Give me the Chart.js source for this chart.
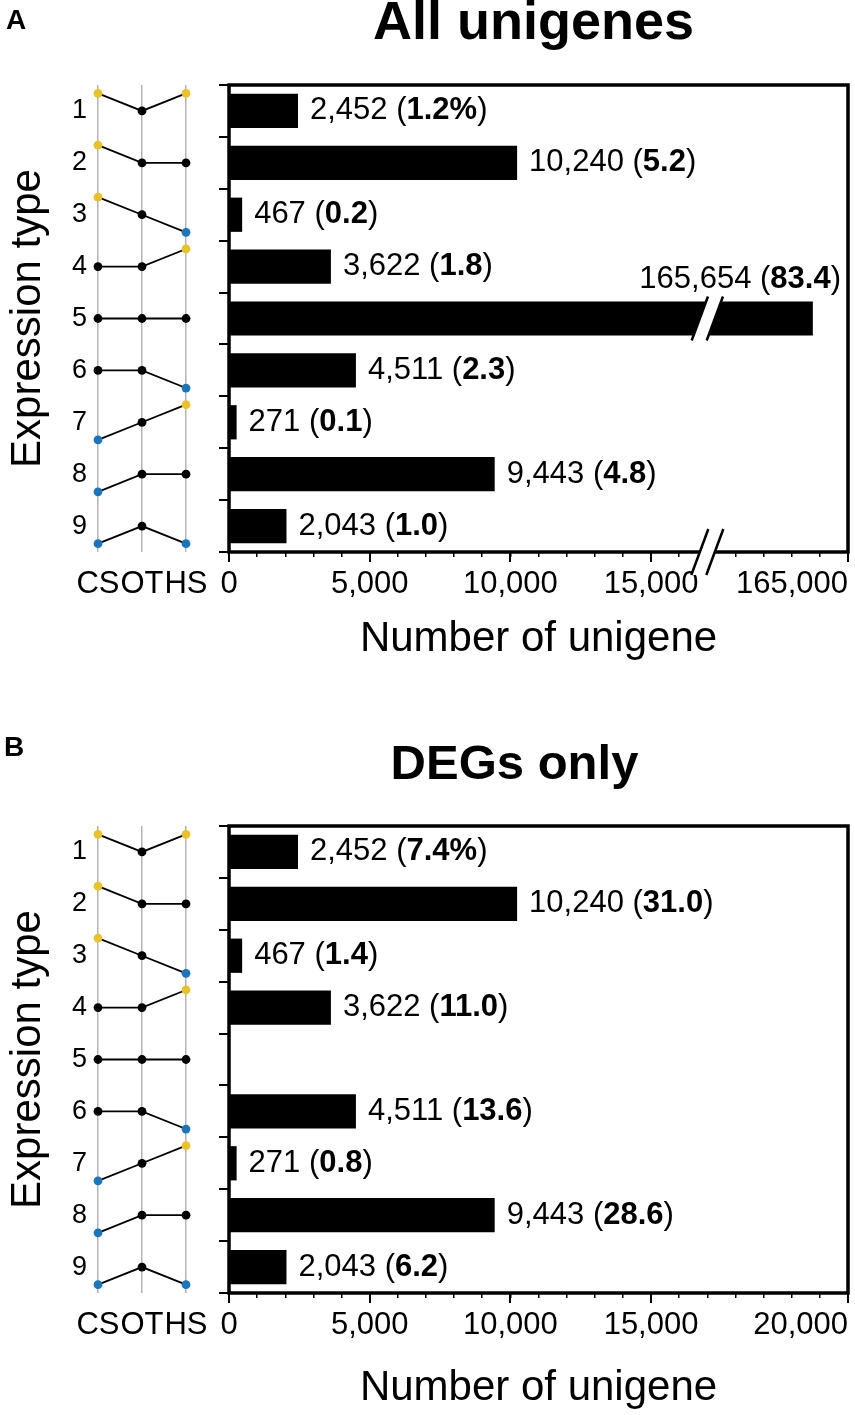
<!DOCTYPE html>
<html>
<head>
<meta charset="utf-8">
<title>Expression types of unigenes</title>
<script src="https://cdn.jsdelivr.net/npm/chart.js@4.4.1/dist/chart.umd.min.js"></script>
<style>
  html, body { margin: 0; padding: 0; background: #fff; overflow: hidden; }
  body { width: 855px; height: 1415px; position: relative; font-family: 'Liberation Sans', Arial, Helvetica, sans-serif; }
  .panel { position: absolute; left: 0; width: 855px; height: 700px; }
  .panel canvas { position: absolute; top: 0; }
  .tag { position: absolute; font-weight: bold; font-size: 28px; line-height: 28px; z-index: 2; }
</style>
</head>
<body>
<div class="panel" style="top:0px">
  <canvas id="patternA" width="215" height="700" style="left:0px"></canvas>
  <canvas id="barsA" width="642" height="700" style="left:213px"></canvas>
</div>
<div class="panel" style="top:741px">
  <canvas id="patternB" width="215" height="700" style="left:0px"></canvas>
  <canvas id="barsB" width="680" height="700" style="left:175px"></canvas>
</div>
<div class="tag" style="left:6px; top:6px;">A</div>
<div class="tag" style="left:4px; top:733px;">B</div>

<script>
// ---- data ----
const expressionTypes = ['1', '2', '3', '4', '5', '6', '7', '8', '9'];
const stageLabels = ['CS', 'OT', 'HS'];
// 1 = up (yellow), 0 = unchanged (black), -1 = down (blue)
const levelCS = [1, 1, 1, 0, 0, 0, -1, -1, -1];
const levelOT = [0, 0, 0, 0, 0, 0, 0, 0, 0];
const levelHS = [1, 0, -1, 1, 0, -1, 1, 0, -1];

const allCounts = [2452, 10240, 467, 3622, 165654, 4511, 271, 9443, 2043];
const allPercents = ['1.2%', '5.2', '0.2', '1.8', '83.4', '2.3', '0.1', '4.8', '1.0'];
const degCounts = [2452, 10240, 467, 3622, 0, 4511, 271, 9443, 2043];
const degPercents = ['7.4%', '31.0', '1.4', '11.0', '', '13.6', '0.8', '28.6', '6.2'];

const xMajorTicks = [0, 5000, 10000, 15000];
const allAxisEnd = '165,000';
const degAxisEnd = '20,000';

// ---- axis layout ----
const AXIS_MAX = 22000;        // axis length in linear units (end tick carries the end label)
const MINOR_STEP = 1000;
const BREAK_AT = 17000;        // where the axis / long bars are broken
const BROKEN_BAR_END = 20750;  // broken bars are drawn up to here
const LEVEL_STEP = 0.34;       // vertical offset of up/down dots, in rows
const X_AXIS_HEIGHT = 148;
const FONT = "'Liberation Sans', Arial, Helvetica, sans-serif";
const LABEL_SIZE = 31;

Chart.defaults.font.family = FONT;
Chart.defaults.color = '#000';
Chart.defaults.animation = false;
Chart.defaults.events = [];
Chart.defaults.plugins.legend.display = false;
Chart.defaults.plugins.tooltip.enabled = false;

const levelColor = { '1': '#e9c22a', '0': '#000000', '-1': '#1b75bb' };

function drawPattern(canvasId) {
    const datasets = expressionTypes.map((t, i) => {
        const lv = [levelCS[i], levelOT[i], levelHS[i]];
        return {
            data: lv.map((l, s) => ({ x: s, y: i + 1 - l * LEVEL_STEP })),
            showLine: true,
            borderColor: '#000',
            borderWidth: 1.8,
            pointRadius: 4.4,
            pointBorderWidth: 0,
            pointBackgroundColor: lv.map(l => levelColor[l]),
            clip: false
        };
    });

    new Chart(document.getElementById(canvasId), {
        type: 'scatter',
        data: { datasets },
        options: {
            responsive: false,
            layout: { padding: { top: 85, right: 29, bottom: 0, left: 0 } },
            scales: {
                x: {
                    type: 'linear', min: 0, max: 2,
                    afterBuildTicks: s => { s.ticks = stageLabels.map((_, k) => ({ value: k })); },
                    afterFit: s => { s.height = X_AXIS_HEIGHT; s.paddingLeft = 0; s.paddingRight = 0; },
                    grid: { color: '#b4b4b4', lineWidth: 1.5, drawTicks: false },
                    border: { display: false },
                    ticks: {
                        callback: v => stageLabels[v],
                        font: { size: 31, lineHeight: '36px' },
                        padding: 14, maxRotation: 0, autoSkip: false
                    }
                },
                y: {
                    type: 'linear', min: 0.5, max: 9.5, reverse: true,
                    afterBuildTicks: s => { s.ticks = expressionTypes.map((_, k) => ({ value: k + 1 })); },
                    afterFit: s => { s.width = 98; },
                    grid: { display: false, drawTicks: false },
                    border: { display: false },
                    ticks: {
                        callback: v => expressionTypes[v - 1],
                        font: { size: 27, lineHeight: '30px' },
                        padding: 11, autoSkip: false
                    },
                    title: {
                        display: true,
                        text: 'Expression type',
                        font: { size: 42, lineHeight: '50px' },
                        padding: { top: 3, bottom: 0 }
                    }
                }
            }
        }
    });
}

// frame round the plot area
const framePlugin = {
    id: 'frame',
    afterDraw(chart) {
        const { ctx, chartArea: a } = chart;
        ctx.save();
        ctx.strokeStyle = '#000';
        ctx.lineWidth = 3.5;
        ctx.strokeRect(a.left, a.top, a.right - a.left, a.bottom - a.top);
        ctx.restore();
    }
};

// the minor-tick axis takes no layout room, but its end label needs a drawing area
const minorAxisRoom = {
    id: 'minorAxisRoom',
    afterLayout(chart) {
        const s = chart.scales.x;
        s.bottom = s.top + X_AXIS_HEIGHT;
        s.height = X_AXIS_HEIGHT;
    }
};

function slashPair(ctx, cx, cy, half) {
    const slant = 0.37 * half;
    const gap = 7.5;
    ctx.fillStyle = '#fff';
    ctx.beginPath();
    ctx.moveTo(cx - gap - slant, cy + half);
    ctx.lineTo(cx - gap + slant, cy - half);
    ctx.lineTo(cx + gap + slant, cy - half);
    ctx.lineTo(cx + gap - slant, cy + half);
    ctx.closePath();
    ctx.fill();
    ctx.strokeStyle = '#000';
    ctx.lineWidth = 2.5;
    ctx.beginPath();
    ctx.moveTo(cx - gap - slant, cy + half);
    ctx.lineTo(cx - gap + slant, cy - half);
    ctx.moveTo(cx + gap - slant, cy + half);
    ctx.lineTo(cx + gap + slant, cy - half);
    ctx.stroke();
}

function makeBreakPlugin(counts) {
    return {
        id: 'axisBreak',
        afterDraw(chart) {
            if (!counts.some(v => v > BREAK_AT)) return;
            const { ctx, chartArea } = chart;
            const xb = chart.scales.x.getPixelForValue(BREAK_AT);
            ctx.save();
            slashPair(ctx, xb, chartArea.bottom, 23);
            chart.getDatasetMeta(0).data.forEach((bar, i) => {
                if (counts[i] > BREAK_AT) slashPair(ctx, xb, bar.y, 22);
            });
            ctx.restore();
        }
    };
}

function makeLabelPlugin(counts, percents) {
    return {
        id: 'barLabels',
        afterDatasetsDraw(chart) {
            const { ctx, chartArea } = chart;
            ctx.save();
            ctx.textBaseline = 'middle';
            ctx.fillStyle = '#000';
            chart.getDatasetMeta(0).data.forEach((bar, i) => {
                const count = counts[i];
                if (!count) return;
                const parts = [
                    [count.toLocaleString('en-US') + ' (', 'normal'],
                    [percents[i], 'bold'],
                    [')', 'normal']
                ];
                const widths = parts.map(([t, w]) => {
                    ctx.font = w + ' ' + LABEL_SIZE + 'px ' + FONT;
                    return ctx.measureText(t).width;
                });
                const total = widths.reduce((a, b) => a + b, 0);
                let x, y;
                if (count > BREAK_AT) {
                    // long broken bar: label sits above it, at the right
                    x = chartArea.right - 7 - total;
                    y = bar.y - bar.height / 2 - 22;
                } else {
                    x = bar.x + 12;
                    y = bar.y;
                }
                parts.forEach(([t, w], k) => {
                    ctx.font = w + ' ' + LABEL_SIZE + 'px ' + FONT;
                    ctx.fillText(t, x, y);
                    x += widths[k];
                });
            });
            ctx.restore();
        }
    };
}

function drawBars(canvasId, title, titleSize, counts, percents, axisEnd, yWidth, xTitlePad) {
    const plotted = counts.map(v => v > BREAK_AT ? BROKEN_BAR_END : v);

    new Chart(document.getElementById(canvasId), {
        type: 'bar',
        data: {
            labels: expressionTypes,
            datasets: [{
                data: plotted,
                backgroundColor: '#000',
                borderWidth: 0,
                barPercentage: 0.66,
                categoryPercentage: 1,
                xAxisID: 'x',
                yAxisID: 'y'
            }]
        },
        options: {
            indexAxis: 'y',
            responsive: false,
            layout: { padding: { top: 0, right: 7, bottom: 0, left: 6 } },
            plugins: {
                title: {
                    display: true,
                    text: title,
                    fullSize: true,
                    color: '#000',
                    font: { size: titleSize, weight: 'bold', lineHeight: '48px' },
                    padding: { top: 0, bottom: 37 }
                }
            },
            scales: {
                y: {
                    type: 'category',
                    offset: true,
                    afterFit: s => { s.width = yWidth; },
                    grid: { offset: true, drawOnChartArea: false, tickLength: 10, color: '#000', lineWidth: 2 },
                    border: { display: false },
                    ticks: { display: false }
                },
                // minor ticks + right-aligned end label
                x: {
                    type: 'linear', position: 'bottom', weight: 0,
                    min: 0, max: AXIS_MAX,
                    afterBuildTicks: s => {
                        s.ticks = Array.from({ length: AXIS_MAX / MINOR_STEP + 1 }, (_, k) => ({ value: k * MINOR_STEP }));
                    },
                    afterFit: s => { s.height = 0; s.paddingLeft = 0; s.paddingRight = 0; },
                    grid: { drawOnChartArea: false, tickLength: 5, color: '#000', lineWidth: 1.5 },
                    border: { display: false },
                    ticks: {
                        callback: v => v === AXIS_MAX ? axisEnd : '',
                        align: 'end',
                        font: { size: 31, lineHeight: '36px' },
                        padding: 9, maxRotation: 0, minRotation: 0, autoSkip: false
                    }
                },
                // major ticks + labels + axis title
                xMajor: {
                    type: 'linear', position: 'bottom', weight: 1,
                    min: 0, max: AXIS_MAX,
                    afterBuildTicks: s => { s.ticks = xMajorTicks.concat([AXIS_MAX]).map(v => ({ value: v })); },
                    afterFit: s => { s.height = X_AXIS_HEIGHT; s.paddingLeft = 0; s.paddingRight = 0; },
                    grid: { drawOnChartArea: false, tickLength: 10, color: '#000', lineWidth: 2 },
                    border: { display: false },
                    ticks: {
                        callback: v => v === AXIS_MAX ? '' : v.toLocaleString('en-US'),
                        font: { size: 31, lineHeight: '36px' },
                        padding: 4, maxRotation: 0, minRotation: 0, autoSkip: false
                    },
                    title: {
                        display: true,
                        text: 'Number of unigene',
                        font: { size: 42, lineHeight: '50px' },
                        padding: { top: 0, bottom: xTitlePad }
                    }
                }
            }
        },
        plugins: [minorAxisRoom, makeLabelPlugin(counts, percents), framePlugin, makeBreakPlugin(counts)]
    });
}

drawPattern('patternA');
drawBars('barsA', 'All unigenes', 54, allCounts, allPercents, allAxisEnd, 10, 36);
drawPattern('patternB');
drawBars('barsB', 'DEGs only', 49, degCounts, degPercents, degAxisEnd, 48, 28);
</script>
</body>
</html>
